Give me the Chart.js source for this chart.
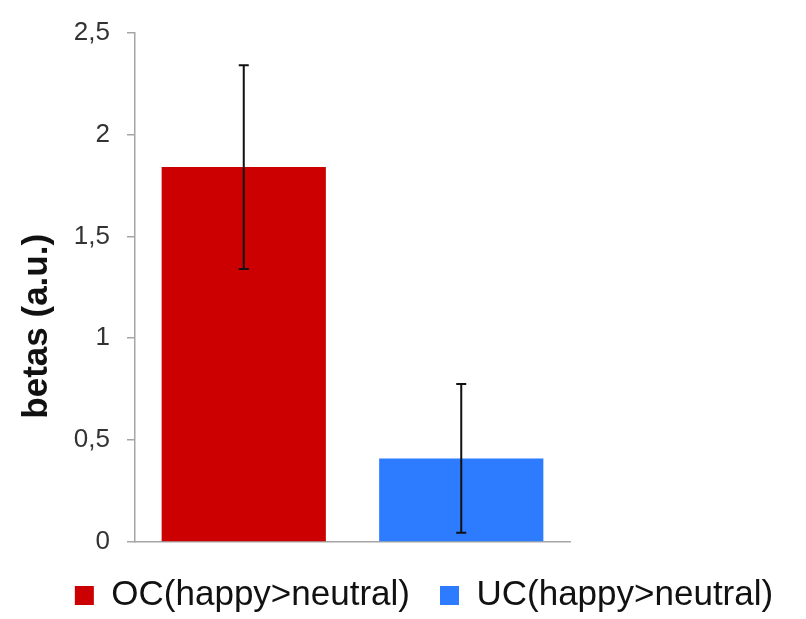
<!DOCTYPE html>
<html>
<head>
<meta charset="utf-8">
<script src="https://cdn.jsdelivr.net/npm/chart.js@4"></script>
<style>
  html, body { margin: 0; padding: 0; background: #fff; }
  #wrap { width: 806px; height: 619px; }
</style>
</head>
<body>
<div id="wrap"><canvas id="barChart"></canvas></div>
<script>
const categories = ['OC(happy>neutral)', 'UC(happy>neutral)'];
const betas = [1.84, 0.41];
const errors = [0.50, 0.365];
const tickLabels = ['0', '0,5', '1', '1,5', '2', '2,5'];
const colors = ['#CC0000', '#2D7BFF'];

// error bars drawn on top of the bars, positioned with the chart's own scales
const errorBars = {
    id: 'errorBars',
    afterDatasetsDraw(chart) {
        const ctx = chart.ctx;
        const y = chart.scales.y;
        chart.data.datasets.forEach((ds, i) => {
            const meta = chart.getDatasetMeta(i);
            meta.data.forEach((bar, j) => {
                const v = ds.data[j];
                if (v === null) return;
                const e = ds.errors[j];
                const top = y.getPixelForValue(v + e);
                const bottom = y.getPixelForValue(v - e);
                ctx.save();
                ctx.strokeStyle = '#111';
                ctx.lineWidth = 2;
                ctx.beginPath();
                ctx.moveTo(bar.x, top);
                ctx.lineTo(bar.x, bottom);
                ctx.moveTo(bar.x - 5, top);
                ctx.lineTo(bar.x + 5, top);
                ctx.moveTo(bar.x - 5, bottom);
                ctx.lineTo(bar.x + 5, bottom);
                ctx.stroke();
                ctx.restore();
            });
        });
    }
};

// small placement tweaks: legend a bit right/down, y title a bit lower
const nudges = {
    id: 'nudges',
    afterLayout(chart) {
        const lg = chart.legend;
        lg.left += 13;
        lg.right += 13;
        lg.top += 4;
        lg.bottom += 4;
        const ys = chart.scales.y;
        if (!ys._titleNudged) {
            const orig = ys.drawTitle;
            ys.drawTitle = function () {
                this.ctx.save();
                this.ctx.translate(0, 39);
                orig.apply(this, arguments);
                this.ctx.restore();
            };
            ys._titleNudged = true;
        }
    }
};

const ctx = document.getElementById('barChart').getContext('2d');
const barChart = new Chart(ctx, {
    type: 'bar',
    data: {
        labels: categories,
        datasets: categories.map((c, i) => ({
            label: c,
            data: categories.map((_, j) => j === i ? betas[i] : null),
            errors: categories.map((_, j) => j === i ? errors[i] : null),
            backgroundColor: colors[i],
            borderWidth: 0,
            skipNull: true,
            categoryPercentage: 1,
            barPercentage: 0.755
        }))
    },
    options: {
        responsive: true,
        maintainAspectRatio: false,
        animation: false,
        layout: { padding: { left: 16, top: 27, right: 0, bottom: 0 } },
        scales: {
            x: {
                afterFit(s) { s.height = 2; },
                grid: { display: false },
                border: { color: '#A6A6A6', width: 1.5 },
                ticks: { display: false }
            },
            y: {
                min: 0,
                max: 2.5,
                afterFit(s) { s.width = 119; },
                ticks: {
                    stepSize: 0.5,
                    padding: 17,
                    color: '#333',
                    font: { family: 'Liberation Sans', size: 26 },
                    callback: (v, i) => tickLabels[i]
                },
                grid: { drawOnChartArea: false, tickLength: 8, color: '#A6A6A6', lineWidth: 1.5 },
                border: { color: '#A6A6A6', width: 1.5 },
                title: {
                    display: true,
                    text: 'betas (a.u.)',
                    color: '#111',
                    font: { family: 'Liberation Sans', size: 35, weight: 'bold' },
                    padding: { top: 0, bottom: 0 }
                }
            },
            yRight: {
                position: 'right',
                display: true,
                afterFit(s) { s.width = 236; },
                ticks: { display: false },
                grid: { display: false },
                border: { display: false }
            }
        },
        plugins: {
            legend: {
                position: 'bottom',
                labels: {
                    boxWidth: 19,
                    boxHeight: 19,
                    padding: 30,
                    color: '#111',
                    font: { family: 'Liberation Sans', size: 35 }
                }
            },
            tooltip: { enabled: false }
        }
    },
    plugins: [errorBars, nudges]
});
</script>
</body>
</html>
